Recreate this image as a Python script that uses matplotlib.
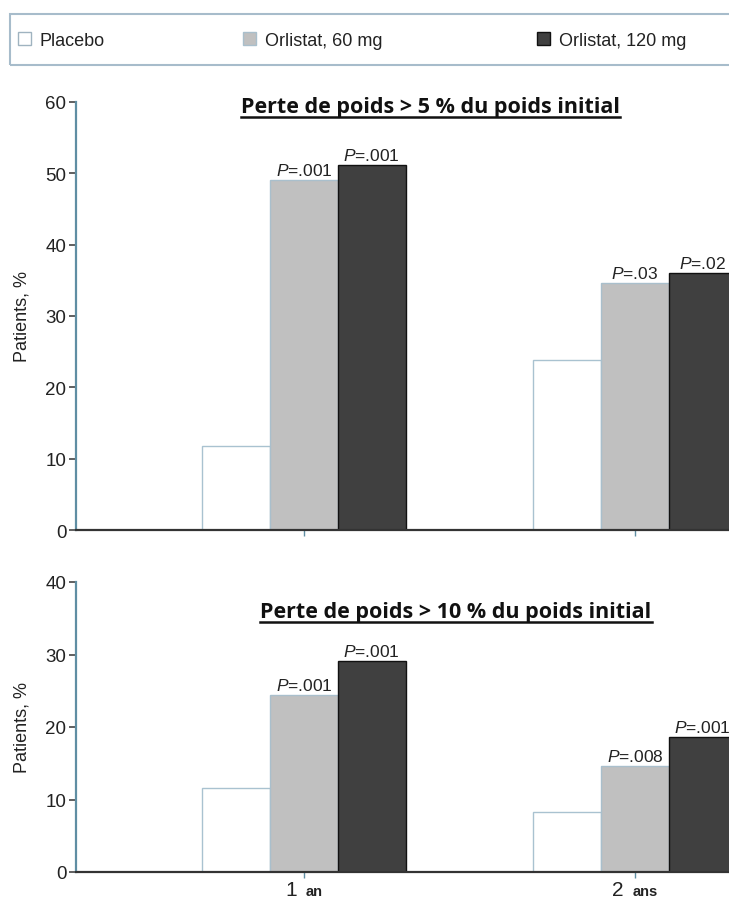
import numpy as np
import matplotlib
matplotlib.use('Agg')
import matplotlib.pyplot as plt
from matplotlib.patches import Patch, Rectangle
from matplotlib.lines import Line2D
from matplotlib.offsetbox import TextArea, HPacker, AnnotationBbox

plt.rcParams['font.family'] = ['Liberation Sans', 'DejaVu Sans']
plt.rcParams['mathtext.fontset'] = 'custom'
plt.rcParams['mathtext.it'] = 'Liberation Sans:italic'
plt.rcParams['mathtext.rm'] = 'Liberation Sans'

# données
groupes = ['Placebo', 'Orlistat, 60 mg', 'Orlistat, 120 mg']
annees = ['1', '2']
unites = ['an', 'ans']

perte5 = {'Placebo': [11.8, 23.8],
          'Orlistat, 60 mg': [49.1, 34.6],
          'Orlistat, 120 mg': [51.2, 36.0]}
p5 = {'Orlistat, 60 mg': ['.001', '.03'],
      'Orlistat, 120 mg': ['.001', '.02']}

perte10 = {'Placebo': [11.6, 8.3],
           'Orlistat, 60 mg': [24.4, 14.6],
           'Orlistat, 120 mg': [29.1, 18.6]}
p10 = {'Orlistat, 60 mg': ['.001', '.008'],
       'Orlistat, 120 mg': ['.001', '.001']}

couleurs = {'Placebo': 'white', 'Orlistat, 60 mg': '#c0c0c0', 'Orlistat, 120 mg': '#404040'}
bords = {'Placebo': '#a9c2d0', 'Orlistat, 60 mg': '#a9bfcc', 'Orlistat, 120 mg': '#111111'}

axe_col = '#5f8ea3'
texte_col = '#222222'

W, H = 729, 904
fig = plt.figure(figsize=(W / 100, H / 100), dpi=100)

# axes : bord gauche à 76 px, la figure coupe le côté droit
left = 76 / W
width = 787 / W
ax1 = fig.add_axes([left, (H - 531) / H, width, 428 / H])
ax2 = fig.add_axes([left, (H - 873) / H, width, 290 / H])

x = np.arange(1, len(annees) + 1)
bw = 0.205
decal = [-bw, 0, bw]


def panneau(ax, data, pvals, ymax, titre, tx, ty):
    for i, g in enumerate(groupes):
        bars = ax.bar(x + decal[i], data[g], bw, color=couleurs[g],
                      edgecolor=bords[g], linewidth=1.0, label=g, zorder=2)
        if g in pvals:
            for b, p in zip(bars, pvals[g]):
                ax.annotate(r'$\mathit{P}$' + '=' + p,
                            (b.get_x() + b.get_width() / 2, b.get_height()),
                            xytext=(0, 1.5), textcoords='offset points',
                            ha='center', va='bottom', fontsize=12.5, color=texte_col)
    ax.set_xlim(0.311, 2.689)
    ax.set_ylim(0, ymax)
    ax.set_yticks(np.arange(0, ymax + 1, 10))
    ax.set_xticks(x)
    ax.set_xticklabels([])
    for s in ['top', 'right']:
        ax.spines[s].set_visible(False)
    ax.spines['left'].set_color(axe_col)
    ax.spines['left'].set_linewidth(1.6)
    ax.spines['bottom'].set_color('#333333')
    ax.spines['bottom'].set_linewidth(1.6)
    ax.tick_params(axis='y', direction='out', length=5, width=1.2, color='#444444',
                   labelsize=13.5, labelcolor=texte_col, pad=2)
    ax.tick_params(axis='x', direction='out', length=4, width=1.0, color=axe_col)
    ax.set_ylabel('Patients, %', fontsize=13, color=texte_col)
    ax.yaxis.set_label_coords(-0.058, 0.5)
    t = ax.text(tx, ty, titre, transform=ax.transAxes, ha='center', va='baseline',
                fontsize=15.5, fontweight='bold', family='Open Sans', color='#111111')
    return t


t1 = panneau(ax1, perte5, p5, 60, 'Perte de poids > 5 % du poids initial', 0.45, 0.977)
t2 = panneau(ax2, perte10, p10, 40, 'Perte de poids > 10 % du poids initial', 0.483, 0.879)

# étiquettes "1 an", "2 ans"
for xi, n, u in zip(x, annees, unites):
    box = HPacker(children=[TextArea(n, textprops=dict(fontsize=15, color=texte_col)),
                            TextArea(u, textprops=dict(fontsize=10.5, color=texte_col, fontweight='bold'))],
                  align='baseline', pad=0, sep=6)
    ab = AnnotationBbox(box, (xi, 0), xycoords=('data', 'axes fraction'),
                        xybox=(0, -6), boxcoords='offset points',
                        box_alignment=(0.5, 1), frameon=False, annotation_clip=False)
    ax2.add_artist(ab)

# soulignement des titres
fig.canvas.draw()
r = fig.canvas.get_renderer()
for t in [t1, t2]:
    bb = t.get_window_extent(r)
    base = t.get_transform().transform(t.get_position())[1]
    y = (base - 5) / H
    fig.add_artist(Line2D([bb.x0 / W, bb.x1 / W], [y, y], transform=fig.transFigure,
                          color='#111111', linewidth=1.8))

# légende encadrée
fig.patches.append(Rectangle((10 / W, 1 - 66 / H), 1.0, 51 / H, transform=fig.transFigure,
                             fill=False, edgecolor='#a7bccb', linewidth=1.5))
pos_leg = [18 / W, 243 / W, 537 / W]
for g, px in zip(groupes, pos_leg):
    h = Patch(facecolor=couleurs[g], edgecolor=bords[g] if g != 'Placebo' else '#9fb3c0')
    fig.legend(handles=[h], labels=[g], loc='center left', bbox_to_anchor=(px, 1 - 41 / H),
               frameon=False, fontsize=13, handlelength=0.7, handleheight=0.7,
               handletextpad=0.5, borderpad=0, borderaxespad=0, labelcolor=texte_col)

fig.savefig('out.png', dpi=100)
